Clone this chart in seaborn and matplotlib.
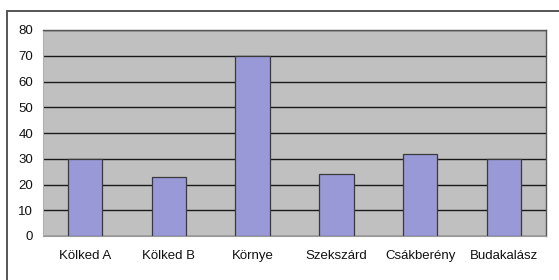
import matplotlib
matplotlib.use("Agg")
import matplotlib.pyplot as plt
import seaborn as sns
import pandas as pd
from matplotlib.patches import Rectangle

categories = ["Kölked A", "Kölked B", "Környe", "Szekszárd", "Csákberény", "Budakalász"]
values = [30, 23, 70, 24, 32, 30]
yticks = [0, 10, 20, 30, 40, 50, 60, 70, 80]

df = pd.DataFrame({"site": categories, "value": values})

sns.set_theme(style="white")
plt.rcParams["font.family"] = ["Liberation Sans", "DejaVu Sans"]

W, H = 559, 280
fig = plt.figure(figsize=(W / 100, H / 100), dpi=100)
fig.patch.set_facecolor("white")
ax = fig.add_axes([43 / W, 1 - 236 / H, (546 - 43) / W, (236 - 30) / H])
ax.set_facecolor("#c0c0c0")

sns.barplot(data=df, x="site", y="value", ax=ax, color="#9a99d8",
            width=0.41, edgecolor="#3a3a3a", linewidth=0.9, saturation=1, zorder=3)

ax.set_ylim(0, 80)
ax.set_yticks(yticks)
ax.set_xlim(-0.5, len(categories) - 0.5)
ax.yaxis.grid(True, color="#1a1a1a", linewidth=1.0, zorder=1)
ax.set_axisbelow(True)
ax.set_xlabel("")
ax.set_ylabel("")
ax.tick_params(axis="both", length=0, labelsize=9.5, colors="#111111")
ax.tick_params(axis="x", pad=10)
ax.tick_params(axis="y", pad=7)
for s in ["top", "right"]:
    ax.spines[s].set_color("#555555")
    ax.spines[s].set_linewidth(1.0)
ax.spines["left"].set_color("#b0b0b0")
ax.spines["bottom"].set_color("#9a9a9a")
ax.spines["left"].set_linewidth(0.8)
ax.spines["bottom"].set_linewidth(0.8)

frame = Rectangle((7 / W, -0.1), 1.2, 1 - 11 / H + 0.1, transform=fig.transFigure,
                  fill=False, edgecolor="#555555", linewidth=1.4)
fig.patches.append(frame)

fig.savefig("out.png", dpi=100)
